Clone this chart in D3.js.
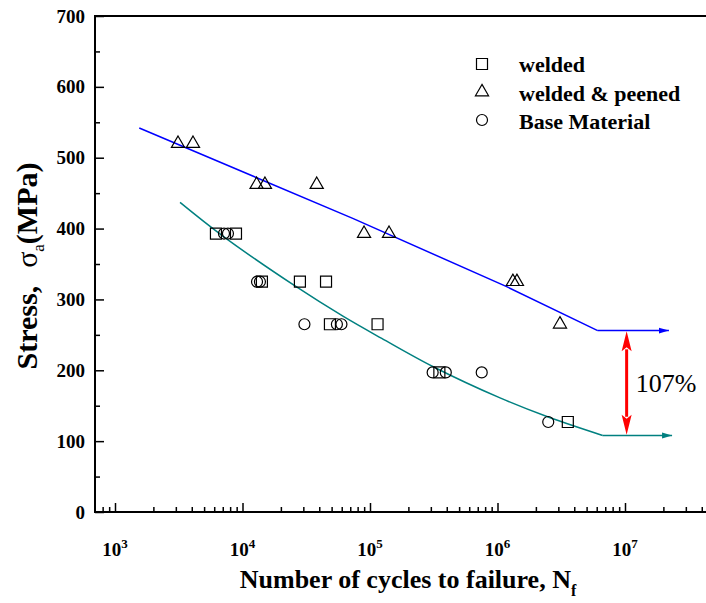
<!DOCTYPE html>
<html>
<head>
<meta charset="utf-8">
<script src="https://cdn.jsdelivr.net/npm/d3@7"></script>
<style>
    body { margin: 0; background: #fff; }
    svg { display: block; }
    svg text { font-family: "Liberation Serif", "Times New Roman", serif; fill: #000; }
    .tick line { stroke: #000; stroke-width: 1.5; }
    .tick text { font-size: 19px; font-weight: bold; }
    .sym { fill: none; stroke: #000; stroke-width: 1.2; }
</style>
</head>
<body>
<svg id="chart" width="706" height="603"></svg>
<script>
// S-N curves: welded vs welded & peened vs base material

const yTicks = [0, 100, 200, 300, 400, 500, 600, 700];
const xExponents = [3, 4, 5, 6, 7];

// welded (squares)
const weldedN = [6190, 8890, 14200, 28200, 45200, 48500, 114600, 350000, 3560000];
const weldedS = [393, 393, 325, 325, 325, 265, 265, 197, 127];

// welded & peened (triangles)
const peenedN = [3120, 4090, 12900, 15000, 38200, 89800, 141000, 1320000, 1420000, 3090000];
const peenedS = [520, 520, 462, 462, 462, 393, 393, 325, 325, 265];

// base material (circles)
const baseN = [7160, 7690, 13000, 13700, 30600, 55000, 59700, 310000, 393000, 752000, 2500000];
const baseS = [393, 393, 325, 325, 265, 265, 265, 197, 197, 197, 127];

// fitted curves (peened = blue, base/welded = teal)
const blueN = [1550, 74000, 1180000, 6110000];
const blueS = [542, 414, 318, 256];
const blueTipN = 22100000;

const tealN = [3236, 7063, 25820, 61800, 123600, 313300, 1047000, 2500000, 6680000];
const tealS = [437, 389, 319, 276, 245, 205, 161, 134, 108];
const tealTipN = 23400000;

// improvement arrow
const gapN = 10300000;
const gapTop = 255;
const gapBottom = 109;
const gapLabel = "107%";

const legendItems = [
    { name: "welded", symbol: d3.symbolSquare, size: 121 },
    { name: "welded & peened", symbol: d3.symbolTriangle, size: 75 },
    { name: "Base Material", symbol: d3.symbolCircle, size: 95 }
];

const svg = d3.select("#chart");

const plotLeft = 95, plotRight = 706, plotTop = 16, plotBottom = 512;

const x = d3.scaleLog().domain([1e3, 1e7]).range([115, 625]);
const y = d3.scaleLinear().domain([0, 700]).range([plotBottom, plotTop]);

// tick values
const xMajor = xExponents.map(e => Math.pow(10, e));
const xMinor = [];
for (let e = 2; e <= 7; e++) {
    for (let m = 2; m <= 9; m++) {
        const v = m * Math.pow(10, e);
        const px = x(v);
        if (px > plotLeft + 2 && px < plotRight) xMinor.push(v);
    }
}
const yMinor = d3.range(50, 700, 100);

// x axis
svg.append("g")
    .attr("transform", `translate(0,${plotBottom})`)
    .call(d3.axisBottom(x).tickValues(xMinor).tickSize(-5).tickFormat(""))
    .call(g => g.select(".domain").remove());
svg.append("g")
    .attr("transform", `translate(0,${plotBottom})`)
    .call(d3.axisBottom(x).tickValues(xMajor).tickSize(-9).tickFormat(""))
    .call(g => g.select(".domain").remove());

const xLabels = svg.append("g")
    .selectAll("text")
    .data(xExponents)
    .enter()
    .append("text")
    .attr("x", d => x(Math.pow(10, d)))
    .attr("y", 556)
    .attr("text-anchor", "middle")
    .style("font-size", "19px")
    .style("font-weight", "bold");
xLabels.append("tspan").text("10");
xLabels.append("tspan")
    .attr("dy", -8)
    .style("font-size", "13px")
    .text(d => d);

// y axis
svg.append("g")
    .attr("transform", `translate(${plotLeft},0)`)
    .call(d3.axisLeft(y).tickValues(yMinor).tickSize(-5).tickFormat(""))
    .call(g => g.select(".domain").remove());
svg.append("g")
    .attr("transform", `translate(${plotLeft},0)`)
    .call(d3.axisLeft(y).tickValues(yTicks).tickSize(-9).tickPadding(10))
    .call(g => g.select(".domain").remove());

// frame lines (left, bottom, top)
svg.append("path")
    .attr("d", `M${plotRight},${plotTop}H${plotLeft}V${plotBottom}H${plotRight}`)
    .attr("fill", "none")
    .attr("stroke", "#000")
    .attr("stroke-width", 2);

// axis titles
const yTitle = svg.append("text")
    .attr("transform", "translate(37,266) rotate(-90)")
    .attr("text-anchor", "middle")
    .style("font-size", "30px")
    .style("font-weight", "bold");
yTitle.append("tspan").text("Stress,");
yTitle.append("tspan").attr("dx", 18).style("font-weight", "normal").text("σ");
yTitle.append("tspan").attr("dy", 7).style("font-size", "17px").style("font-weight", "normal").text("a");
yTitle.append("tspan").attr("dy", -7).text("(MPa)");

const xTitle = svg.append("text")
    .attr("x", 408)
    .attr("y", 588)
    .attr("text-anchor", "middle")
    .style("font-size", "26px")
    .style("font-weight", "bold");
xTitle.append("tspan").text("Number of cycles to failure, N");
xTitle.append("tspan").attr("dy", 8).style("font-size", "16px").text("f");

// arrow markers for the curve tails
const defs = svg.append("defs");
[["arrow-blue", "#0000ff"], ["arrow-teal", "#008080"]].forEach(([id, col]) => {
    defs.append("marker")
        .attr("id", id)
        .attr("markerUnits", "userSpaceOnUse")
        .attr("markerWidth", 11)
        .attr("markerHeight", 8)
        .attr("refX", 10)
        .attr("refY", 4)
        .attr("orient", "auto")
        .append("path")
        .attr("d", "M0,1 L10,4 L0,7 Z")
        .attr("fill", col);
});

const line = d3.line().x(d => x(d[0])).y(d => y(d[1]));

// blue curve (welded & peened)
svg.append("path")
    .attr("d", line(blueN.map((n, i) => [n, blueS[i]])))
    .attr("fill", "none")
    .attr("stroke", "#0000ff")
    .attr("stroke-width", 1.5);
svg.append("path")
    .attr("d", line([[blueN[blueN.length - 1], blueS[blueS.length - 1]], [blueTipN, blueS[blueS.length - 1]]]))
    .attr("fill", "none")
    .attr("stroke", "#0000ff")
    .attr("stroke-width", 1.5)
    .attr("marker-end", "url(#arrow-blue)");

// teal curve (welded / base)
svg.append("path")
    .attr("d", line.curve(d3.curveCatmullRom.alpha(0.5))(tealN.map((n, i) => [n, tealS[i]])))
    .attr("fill", "none")
    .attr("stroke", "#008080")
    .attr("stroke-width", 1.5);
line.curve(d3.curveLinear);
svg.append("path")
    .attr("d", line([[tealN[tealN.length - 1], tealS[tealS.length - 1]], [tealTipN, tealS[tealS.length - 1]]]))
    .attr("fill", "none")
    .attr("stroke", "#008080")
    .attr("stroke-width", 1.5)
    .attr("marker-end", "url(#arrow-teal)");

// red double arrow
const gx = x(gapN), gy1 = y(gapTop), gy2 = y(gapBottom);
const headLen = 20, headHalf = 5;
svg.append("line")
    .attr("x1", gx).attr("x2", gx)
    .attr("y1", gy1 + headLen - 2).attr("y2", gy2 - headLen + 2)
    .attr("stroke", "#ff0000")
    .attr("stroke-width", 3);
svg.append("path")
    .attr("d", `M${gx},${gy1} L${gx + headHalf},${gy1 + headLen} L${gx},${gy1 + headLen - 4} L${gx - headHalf},${gy1 + headLen} Z`)
    .attr("fill", "#ff0000");
svg.append("path")
    .attr("d", `M${gx},${gy2} L${gx + headHalf},${gy2 - headLen} L${gx},${gy2 - headLen + 4} L${gx - headHalf},${gy2 - headLen} Z`)
    .attr("fill", "#ff0000");
svg.append("text")
    .attr("x", gx + 9)
    .attr("y", (gy1 + gy2) / 2 + 9)
    .style("font-size", "26px")
    .text(gapLabel);

// data points
function drawPoints(ns, ss, symbolType, size) {
    svg.append("g")
        .selectAll("path")
        .data(ns.map((n, i) => [n, ss[i]]))
        .enter()
        .append("path")
        .attr("class", "sym")
        .attr("d", d3.symbol().type(symbolType).size(size))
        .attr("transform", d => `translate(${x(d[0])},${y(d[1])})`);
}
drawPoints(weldedN, weldedS, d3.symbolSquare, 121);
drawPoints(peenedN, peenedS, d3.symbolTriangle, 75);
drawPoints(baseN, baseS, d3.symbolCircle, 95);

// legend
const legend = svg.append("g").attr("transform", "translate(482,64)");
legendItems.forEach((item, i) => {
    legend.append("path")
        .attr("class", "sym")
        .attr("d", d3.symbol().type(item.symbol).size(item.size))
        .attr("transform", `translate(0,${i * 28})`);
    legend.append("text")
        .attr("x", 37)
        .attr("y", i * 28.5 + 8)
        .style("font-size", "22px")
        .style("font-weight", "bold")
        .text(item.name);
});
</script>
</body>
</html>
